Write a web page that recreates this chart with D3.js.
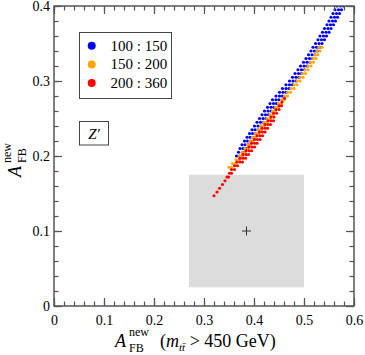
<!DOCTYPE html>
<html>
<head>
<meta charset="utf-8">
<script src="https://cdn.jsdelivr.net/npm/d3@7"></script>
<style>
  body { margin: 0; background: #fff; }
  svg { display: block; }
  svg text { font-family: "Liberation Serif", "DejaVu Serif", "Times New Roman", serif; fill: #000; }
</style>
</head>
<body>
<div id="chart"></div>
<script>
// scan rows: [A_FB(new), then the A_FB(m>450) values in that row]
const blueRows = [
  [0.200, 0.365, 0.371], [0.205, 0.369, 0.377], [0.210, 0.372, 0.378, 0.384],
  [0.215, 0.376, 0.382, 0.388], [0.220, 0.381, 0.387, 0.393], [0.225, 0.386, 0.392, 0.398],
  [0.230, 0.391, 0.397, 0.403], [0.235, 0.396, 0.402, 0.408], [0.240, 0.401, 0.408, 0.414],
  [0.245, 0.406, 0.413, 0.419], [0.250, 0.411, 0.418, 0.424], [0.255, 0.416, 0.423, 0.429],
  [0.260, 0.421, 0.428, 0.434], [0.265, 0.427, 0.434, 0.440], [0.270, 0.432, 0.439, 0.445],
  [0.275, 0.437, 0.444, 0.450], [0.280, 0.444, 0.451, 0.457], [0.285, 0.451, 0.458, 0.464],
  [0.290, 0.457, 0.464, 0.470], [0.295, 0.464, 0.471, 0.477], [0.300, 0.471, 0.478, 0.484],
  [0.305, 0.477, 0.484, 0.490], [0.310, 0.482, 0.489, 0.495], [0.315, 0.488, 0.495, 0.501],
  [0.320, 0.493, 0.500, 0.506], [0.325, 0.499, 0.506, 0.512], [0.330, 0.504, 0.511, 0.517],
  [0.335, 0.509, 0.516, 0.522], [0.340, 0.514, 0.521, 0.527], [0.345, 0.518, 0.525, 0.531],
  [0.350, 0.523, 0.530, 0.536], [0.355, 0.528, 0.535, 0.541], [0.360, 0.532, 0.539, 0.545],
  [0.365, 0.537, 0.544, 0.550], [0.370, 0.541, 0.548, 0.554], [0.375, 0.546, 0.553, 0.559],
  [0.380, 0.550, 0.557, 0.563], [0.385, 0.554, 0.561, 0.567], [0.390, 0.558, 0.565, 0.571],
  [0.395, 0.562, 0.569, 0.575], [0.400, 0.566, 0.573, 0.579]
];
const orangeRows = [
  [0.185, 0.350, 0.355], [0.190, 0.357, 0.363], [0.195, 0.364, 0.370], [0.200, 0.371, 0.377],
  [0.205, 0.376, 0.382], [0.210, 0.382, 0.388], [0.215, 0.387, 0.393], [0.220, 0.392, 0.398],
  [0.225, 0.397, 0.403], [0.230, 0.403, 0.409], [0.235, 0.408, 0.414], [0.240, 0.414, 0.420],
  [0.245, 0.420, 0.426], [0.250, 0.426, 0.432], [0.255, 0.432, 0.438], [0.260, 0.437, 0.443],
  [0.265, 0.443, 0.449], [0.270, 0.449, 0.455], [0.275, 0.455, 0.461], [0.280, 0.461, 0.467],
  [0.285, 0.467, 0.473], [0.290, 0.474, 0.480], [0.295, 0.480, 0.486], [0.300, 0.486, 0.492],
  [0.305, 0.492, 0.498], [0.310, 0.497, 0.503], [0.315, 0.502, 0.508], [0.320, 0.508, 0.514],
  [0.325, 0.513, 0.519], [0.330, 0.518, 0.524], [0.335, 0.522, 0.528], [0.340, 0.526, 0.532],
  [0.345, 0.530, 0.536]
];
const redRows = [
  [0.147, 0.320], [0.152, 0.326], [0.157, 0.331], [0.162, 0.337], [0.167, 0.342],
  [0.172, 0.346, 0.349], [0.177, 0.351, 0.355], [0.182, 0.355, 0.361], [0.187, 0.361, 0.367],
  [0.192, 0.366, 0.372, 0.377], [0.197, 0.372, 0.378, 0.383], [0.202, 0.378, 0.384, 0.389],
  [0.207, 0.384, 0.390, 0.395], [0.212, 0.390, 0.396, 0.401], [0.217, 0.395, 0.401, 0.406],
  [0.222, 0.401, 0.407, 0.412], [0.227, 0.406, 0.412, 0.417], [0.232, 0.411, 0.417, 0.422],
  [0.237, 0.416, 0.422, 0.427], [0.242, 0.422, 0.428, 0.433], [0.247, 0.428, 0.434, 0.439],
  [0.252, 0.434, 0.440], [0.257, 0.439, 0.445], [0.262, 0.444, 0.450], [0.267, 0.450, 0.455],
  [0.272, 0.456], [0.277, 0.461]
];
const seriesLabels = ["100 : 150", "150 : 200", "200 : 360"];
const seriesColors = ["#0000ff", "#ffa500", "#ff0000"];

// measured region and its central value
const boxX = [0.27, 0.50];
const boxY = [0.025, 0.175];
const centre = [0.385, 0.1];

const xTicks = [0, 0.1, 0.2, 0.3, 0.4, 0.5, 0.6];
const yTicks = [0, 0.1, 0.2, 0.3, 0.4];

(function(){
const width = 365, height = 355;
const mLeft = 54, mTop = 6, plotW = 300, plotH = 300;
const serif = "'Liberation Serif', 'DejaVu Serif', 'Times New Roman', serif";

const svg = d3.select("#chart").append("svg")
  .attr("width", width)
  .attr("height", height)
  .attr("font-family", serif);

const x = d3.scaleLinear().domain([0, 0.6]).range([mLeft, mLeft + plotW]);
const y = d3.scaleLinear().domain([0, 0.4]).range([mTop + plotH, mTop]);

svg.append("clipPath").attr("id", "clip")
  .append("rect")
  .attr("x", mLeft).attr("y", mTop)
  .attr("width", plotW).attr("height", plotH);

// grey box
svg.append("rect")
  .attr("x", x(boxX[0]))
  .attr("y", y(boxY[1]))
  .attr("width", x(boxX[1]) - x(boxX[0]))
  .attr("height", y(boxY[0]) - y(boxY[1]))
  .attr("fill", "#dcdcdc");

// plus at the centre
svg.append("path")
  .attr("d", `M${x(centre[0]) - 4.5},${y(centre[1])}H${x(centre[0]) + 4.5}M${x(centre[0])},${y(centre[1]) - 4.5}V${y(centre[1]) + 4.5}`)
  .attr("stroke", "#333")
  .attr("stroke-width", 1);

// flatten rows to points
function toPoints(rows) {
  const pts = [];
  rows.forEach(r => {
    for (let i = 1; i < r.length; i++) pts.push([r[i], r[0]]);
  });
  return pts;
}

const dots = svg.append("g").attr("clip-path", "url(#clip)");
[blueRows, orangeRows, redRows].forEach((rows, k) => {
  dots.selectAll(".s" + k)
    .data(toPoints(rows))
    .enter().append("circle")
    .attr("class", "s" + k)
    .attr("cx", d => x(d[0]))
    .attr("cy", d => y(d[1]))
    .attr("r", 1.6)
    .attr("fill", seriesColors[k]);
});

// axes: ticks inward on all four sides
const fmt = d => d === 0 ? "0" : d.toFixed(1);
const axisColor = "#555";

function styleAxis(g) {
  g.attr("font-family", serif).attr("font-size", 14);
  g.select(".domain").remove();
  g.selectAll("line").attr("stroke", axisColor).attr("stroke-width", 1.2);
  g.selectAll("text").attr("fill", "#000");
}

svg.append("g").attr("transform", `translate(0,${mTop + plotH})`)
  .call(d3.axisBottom(x).tickValues(x.ticks(30)).tickSize(-4.5).tickFormat(""))
  .call(styleAxis);
svg.append("g").attr("transform", `translate(0,${mTop + plotH})`)
  .call(d3.axisBottom(x).tickValues(xTicks).tickSize(-8).tickPadding(9).tickFormat(fmt))
  .call(styleAxis);
svg.append("g").attr("transform", `translate(0,${mTop})`)
  .call(d3.axisTop(x).tickValues(x.ticks(30)).tickSize(-4.5).tickFormat(""))
  .call(styleAxis);
svg.append("g").attr("transform", `translate(0,${mTop})`)
  .call(d3.axisTop(x).tickValues(xTicks).tickSize(-8).tickFormat(""))
  .call(styleAxis);

svg.append("g").attr("transform", `translate(${mLeft},0)`)
  .call(d3.axisLeft(y).tickValues(y.ticks(20)).tickSize(-4.5).tickFormat(""))
  .call(styleAxis);
svg.append("g").attr("transform", `translate(${mLeft},0)`)
  .call(d3.axisLeft(y).tickValues(yTicks).tickSize(-8).tickPadding(4).tickFormat(fmt))
  .call(styleAxis);
svg.append("g").attr("transform", `translate(${mLeft + plotW},0)`)
  .call(d3.axisRight(y).tickValues(y.ticks(20)).tickSize(-4.5).tickFormat(""))
  .call(styleAxis);
svg.append("g").attr("transform", `translate(${mLeft + plotW},0)`)
  .call(d3.axisRight(y).tickValues(yTicks).tickSize(-8).tickFormat(""))
  .call(styleAxis);

// frame
svg.append("rect")
  .attr("x", mLeft).attr("y", mTop)
  .attr("width", plotW).attr("height", plotH)
  .attr("fill", "none")
  .attr("stroke", axisColor)
  .attr("stroke-width", 1.5);

// legend
const leg = svg.append("g");
leg.append("rect")
  .attr("x", 79.5).attr("y", 32.5)
  .attr("width", 92).attr("height", 66)
  .attr("fill", "#fff")
  .attr("stroke", "#444")
  .attr("stroke-width", 1);
seriesLabels.forEach((lab, i) => {
  const yy = 45.7 + i * 18.7;
  leg.append("circle").attr("cx", 91.7).attr("cy", yy).attr("r", 4).attr("fill", seriesColors[i]);
  leg.append("text").attr("x", 110.5).attr("y", yy + 5).attr("font-size", 15).text(lab);
});

// Z' box
svg.append("rect")
  .attr("x", 79.5).attr("y", 121.5)
  .attr("width", 29).attr("height", 23.5)
  .attr("fill", "#fff")
  .attr("stroke", "#444")
  .attr("stroke-width", 1);
svg.append("text")
  .attr("x", 94).attr("y", 138.5)
  .attr("text-anchor", "middle")
  .attr("font-size", 15)
  .attr("font-style", "italic")
  .text("Z\u2032");

// x label
const xl = svg.append("g");
xl.append("text").attr("x", 115).attr("y", 347).attr("font-size", 18).attr("font-style", "italic").text("A");
xl.append("text").attr("x", 129).attr("y", 336).attr("font-size", 12).text("new");
xl.append("text").attr("x", 129).attr("y", 352).attr("font-size", 12).text("FB");
const xt = xl.append("text").attr("x", 160).attr("y", 347).attr("font-size", 18);
xt.append("tspan").text("(");
xt.append("tspan").attr("font-style", "italic").text("m");
xt.append("tspan").attr("font-style", "italic").attr("font-size", 11).attr("dy", 4).text("tt\u0304");
xt.append("tspan").attr("dy", -4).text(" > 450 GeV)");

// y label
const yl = svg.append("g").attr("transform", "translate(0,157) rotate(-90)");
yl.append("text").attr("x", -20).attr("y", 21).attr("font-size", 18).attr("font-style", "italic").text("A");
yl.append("text").attr("x", -6).attr("y", 11).attr("font-size", 12).text("new");
yl.append("text").attr("x", -6).attr("y", 26).attr("font-size", 12).text("FB");
})();
</script>
</body>
</html>
